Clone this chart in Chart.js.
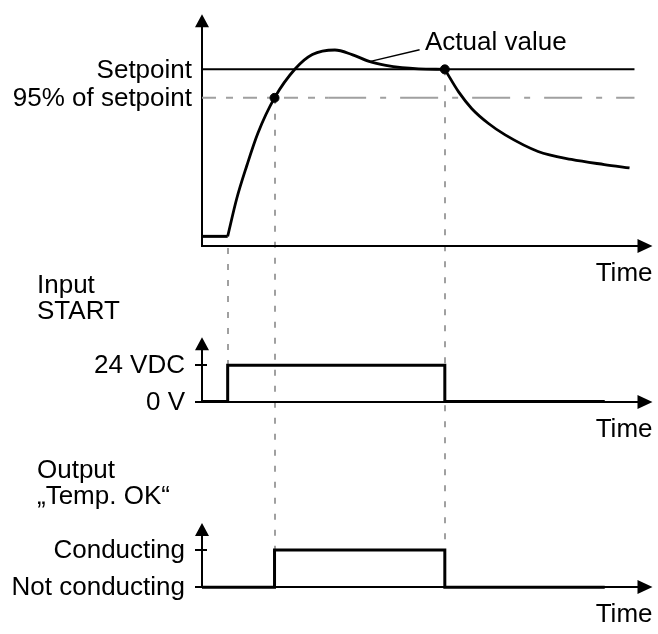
<!DOCTYPE html>
<html lang="en">
<head>
<meta charset="UTF-8">
<title>Temp. OK output timing</title>
<script src="https://cdn.jsdelivr.net/npm/chart.js"></script>
<style>
  body { margin: 0; background: #fff; }
</style>
</head>
<body>
<canvas id="myChart" width="658" height="634"></canvas>
<script>
// time axis runs 0..100 (y axis .. arrow tip)
const tStart = 5.7;    // input START switches on
const t95 = 16.1;      // actual value reaches 95 % of setpoint
const tSettle = 53.9;  // START switched off
const tEnd = 89.4;     // end of the signal traces
const tLineEnd = 96;   // end of the setpoint lines

// actual value in % of setpoint
const setpoint = 100;
const setpoint95 = 95;
const tempAxisBase = 69;   // value where the time axis crosses
const flatTime = [0, tStart];
const flatValue = [70.7, 70.7];
const riseTime = [5.7, 7.7, 9.9, 12.4, 16.1, 20.7, 24.5, 29.5, 33.3, 37.1, 40.8, 44.4, 48.1, 53.9];
const riseValue = [70.7, 77.3, 83.0, 88.8, 95.0, 100.1, 102.6, 103.4, 102.6, 101.4, 100.7, 100.3, 100.1, 100.0];
const fallTime = [53.9, 57.0, 59.9, 63.6, 67.3, 74.6, 82.0, 89.3, 94.9];
const fallValue = [100.0, 96.0, 93.1, 90.5, 88.5, 85.6, 84.2, 83.3, 82.7];

// input START (volts) and output "Temp. OK" (0/1), step signals
const inputTime = [0, tStart, tSettle, tEnd];
const inputVolt = [0, 24, 0, 0];
const outputTime = [0, t95, tSettle, tEnd];
const outputState = [0, 1, 0, 0];

const FONT = '26px "Liberation Sans", Arial, sans-serif';
const H = 634;

// y range so that value a sits at pixel pa and value b at pixel pb
function rangeFor(a, pa, b, pb) {
  const ppu = (pa - pb) / (b - a);
  const max = b + pb / ppu;
  return { min: max - H / ppu, max: max };
}
const tempRange = rangeFor(setpoint95, 94, setpoint, 65);
const inRange = rangeFor(0, 403, 24, 366);
const outRange = rangeFor(0, 592, 1, 554);

function pts(xs, ys) {
  return xs.map((x, i) => ({ x: x, y: ys[i] }));
}

const panels = [
  { axis: 'yTemp', base: tempAxisBase, high: setpoint, tip: 55, left: 0,
    ticks: [[setpoint, 'Setpoint'], [setpoint95, '95% of setpoint']], gap: 10, tickMarks: false },
  { axis: 'yIn', base: 0, high: 24, tip: 28, left: 7,
    ticks: [[24, '24 VDC'], [0, '0 V']], gap: 17, tickMarks: true, title: ['Input', 'START'] },
  { axis: 'yOut', base: 0, high: 1, tip: 27, left: 7,
    ticks: [[1, 'Conducting'], [0, 'Not conducting']], gap: 17, tickMarks: true, title: ['Output', '\u201ETemp. OK\u201C'] }
];

const diagram = {
  id: 'diagram',
  beforeDatasetsDraw(chart) {
    const ctx = chart.ctx;
    const xs = chart.scales.x;
    const yT = chart.scales.yTemp, yI = chart.scales.yIn, yO = chart.scales.yOut;
    const x0 = xs.getPixelForValue(0), xTip = xs.getPixelForValue(100);
    ctx.save();

    // dashed guides
    ctx.strokeStyle = '#a0a0a0';
    ctx.lineWidth = 2;
    ctx.setLineDash([6, 10]);
    const guide = (t, y1, y2) => {
      const px = Math.round(xs.getPixelForValue(t));
      ctx.beginPath(); ctx.moveTo(px, y1); ctx.lineTo(px, y2); ctx.stroke();
    };
    guide(tStart, yT.getPixelForValue(tempAxisBase) + 2, yI.getPixelForValue(24));
    guide(t95, yT.getPixelForValue(setpoint95), yO.getPixelForValue(1));
    guide(tSettle, yT.getPixelForValue(setpoint), yO.getPixelForValue(1));
    ctx.setLineDash([]);

    // axes with arrows
    ctx.strokeStyle = '#000';
    ctx.fillStyle = '#000';
    ctx.lineWidth = 2;
    panels.forEach(p => {
      const ys = chart.scales[p.axis];
      const yb = Math.round(ys.getPixelForValue(p.base));
      const yh = ys.getPixelForValue(p.high);
      const yTip = yh - p.tip;
      ctx.beginPath();
      ctx.moveTo(x0, yb + 1); ctx.lineTo(x0, yTip + 10);
      ctx.moveTo(x0 - p.left, yb); ctx.lineTo(xTip - 10, yb);
      if (p.tickMarks) {
        ctx.moveTo(x0 - 7, Math.round(yh)); ctx.lineTo(x0 + 5, Math.round(yh));
      }
      ctx.stroke();
      ctx.beginPath();
      ctx.moveTo(x0, yTip); ctx.lineTo(x0 - 7, yTip + 13); ctx.lineTo(x0 + 7, yTip + 13); ctx.closePath();
      ctx.moveTo(xTip, yb); ctx.lineTo(xTip - 15, yb - 7); ctx.lineTo(xTip - 15, yb + 7); ctx.closePath();
      ctx.fill();
    });

    // leader line to "Actual value"
    ctx.lineWidth = 1.5;
    ctx.beginPath();
    ctx.moveTo(xs.getPixelForValue(37.4), yT.getPixelForValue(101.4));
    ctx.lineTo(xs.getPixelForValue(48.3), yT.getPixelForValue(103.45));
    ctx.stroke();
    ctx.restore();
  },
  afterDatasetsDraw(chart) {
    const ctx = chart.ctx;
    const xs = chart.scales.x;
    const x0 = xs.getPixelForValue(0), xTip = xs.getPixelForValue(100);
    ctx.save();
    ctx.font = FONT;
    ctx.fillStyle = '#000';
    ctx.textBaseline = 'middle';
    panels.forEach(p => {
      const ys = chart.scales[p.axis];
      const yb = ys.getPixelForValue(p.base);
      const yh = ys.getPixelForValue(p.high);
      ctx.textAlign = 'right';
      p.ticks.forEach(([v, label]) => ctx.fillText(label, x0 - p.gap, ys.getPixelForValue(v) + 1));
      ctx.fillText('Time', xTip, yb + 28);
      if (p.title) {
        ctx.textAlign = 'left';
        ctx.fillText(p.title[0], 37, yh - 79);
        ctx.fillText(p.title[1], 37, yh - 53);
      }
    });
    const yT = chart.scales.yTemp;
    ctx.textAlign = 'left';
    ctx.fillText('Actual value', xs.getPixelForValue(49.5), yT.getPixelForValue(104.7));
    ctx.restore();
  }
};

const black = '#000';
new Chart(document.getElementById('myChart'), {
  type: 'line',
  data: {
    datasets: [
      // dataset 0 is painted last, so the marker dots sit on top
      { data: pts([t95, tSettle], [setpoint95, setpoint]), yAxisID: 'yTemp', showLine: false, pointRadius: 4.5, pointBackgroundColor: black, pointBorderColor: black, pointBorderWidth: 1 },
      { data: pts(riseTime, riseValue), yAxisID: 'yTemp', borderColor: black, borderWidth: 2.8, pointRadius: 0, cubicInterpolationMode: 'monotone' },
      { data: pts(fallTime, fallValue), yAxisID: 'yTemp', borderColor: black, borderWidth: 2.8, pointRadius: 0, cubicInterpolationMode: 'monotone' },
      { data: pts(flatTime, flatValue), yAxisID: 'yTemp', borderColor: black, borderWidth: 3, pointRadius: 0 },
      { data: pts([0, tLineEnd], [setpoint, setpoint]), yAxisID: 'yTemp', borderColor: black, borderWidth: 2, pointRadius: 0 },
      { data: pts([0, 28], [setpoint95, setpoint95]), yAxisID: 'yTemp', borderColor: '#a0a0a0', borderWidth: 2, borderDash: [14, 10, 7, 10], pointRadius: 0 },
      { data: pts([28, tLineEnd], [setpoint95, setpoint95]), yAxisID: 'yTemp', borderColor: '#a0a0a0', borderWidth: 2, borderDash: [38, 14, 6, 14], pointRadius: 0 },
      { data: pts(inputTime, inputVolt), yAxisID: 'yIn', borderColor: black, borderWidth: 3, pointRadius: 0, stepped: 'before' },
      { data: pts(outputTime, outputState), yAxisID: 'yOut', borderColor: black, borderWidth: 3, pointRadius: 0, stepped: 'before' }
    ]
  },
  options: {
    responsive: false,
    animation: false,
    events: [],
    layout: { padding: { left: 202, right: 3, top: 0, bottom: 0 } },
    plugins: { legend: { display: false }, tooltip: { enabled: false } },
    elements: { line: { tension: 0 } },
    datasets: { line: { clip: false } },
    scales: {
      x: { type: 'linear', min: 0, max: 100, display: false },
      yTemp: { type: 'linear', min: tempRange.min, max: tempRange.max, display: false },
      yIn: { type: 'linear', min: inRange.min, max: inRange.max, display: false },
      yOut: { type: 'linear', min: outRange.min, max: outRange.max, display: false }
    }
  },
  plugins: [diagram]
});
</script>
</body>
</html>
